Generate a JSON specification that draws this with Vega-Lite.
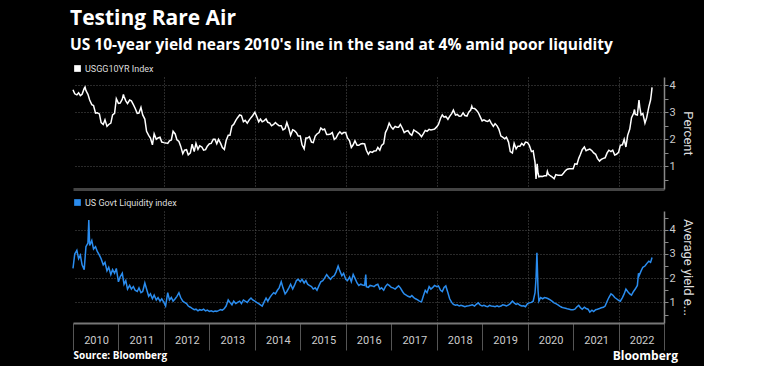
{
  "$schema": "https://vega.github.io/schema/vega-lite/v6.json",
  "background": "#000000",
  "padding": {"left": 70, "top": 7, "right": 10, "bottom": 4},
  "title": {
    "text": "Testing Rare Air",
    "subtitle": "US 10-year yield nears 2010's line in the sand at 4% amid poor liquidity",
    "anchor": "start",
    "font": "Open Sans",
    "fontSize": 21,
    "fontWeight": "bold",
    "color": "#ffffff",
    "subtitleFont": "Open Sans",
    "subtitleFontSize": 15.5,
    "subtitleFontWeight": "bold",
    "subtitleColor": "#ffffff",
    "subtitlePadding": 9,
    "offset": 11
  },
  "datasets": {
    "yield": [
      {"d":"2010-01-01","v":3.83},{"d":"2010-01-15","v":3.68},{"d":"2010-02-01","v":3.64},{"d":"2010-02-15","v":3.72},{"d":"2010-03-01","v":3.61},{"d":"2010-03-15","v":3.66},{"d":"2010-04-01","v":3.88},{"d":"2010-04-08","v":3.93},{"d":"2010-04-15","v":3.8},{"d":"2010-05-01","v":3.66},{"d":"2010-05-15","v":3.45},{"d":"2010-06-01","v":3.28},{"d":"2010-06-15","v":3.25},{"d":"2010-07-01","v":2.97},{"d":"2010-07-15","v":2.98},{"d":"2010-08-01","v":2.94},{"d":"2010-08-15","v":2.62},{"d":"2010-09-01","v":2.55},{"d":"2010-09-15","v":2.72},{"d":"2010-10-01","v":2.48},{"d":"2010-10-15","v":2.55},{"d":"2010-11-01","v":2.6},{"d":"2010-11-15","v":2.9},{"d":"2010-12-01","v":2.96},{"d":"2010-12-15","v":3.5},
      {"d":"2011-01-01","v":3.33},{"d":"2011-01-15","v":3.34},{"d":"2011-02-01","v":3.48},{"d":"2011-02-10","v":3.66},{"d":"2011-02-15","v":3.58},{"d":"2011-03-01","v":3.42},{"d":"2011-03-15","v":3.32},{"d":"2011-04-01","v":3.45},{"d":"2011-04-15","v":3.42},{"d":"2011-05-01","v":3.28},{"d":"2011-05-15","v":3.15},{"d":"2011-06-01","v":2.96},{"d":"2011-06-15","v":2.97},{"d":"2011-07-01","v":3.18},{"d":"2011-07-15","v":2.9},{"d":"2011-08-01","v":2.75},{"d":"2011-08-15","v":2.3},{"d":"2011-09-01","v":2.15},{"d":"2011-09-15","v":2.05},{"d":"2011-10-01","v":1.8},{"d":"2011-10-15","v":2.2},{"d":"2011-11-01","v":2.0},{"d":"2011-11-15","v":2.05},{"d":"2011-12-01","v":2.08},{"d":"2011-12-15","v":1.9},
      {"d":"2012-01-01","v":1.88},{"d":"2012-01-15","v":1.87},{"d":"2012-02-01","v":1.85},{"d":"2012-02-15","v":1.95},{"d":"2012-03-01","v":1.98},{"d":"2012-03-15","v":2.3},{"d":"2012-04-01","v":2.2},{"d":"2012-04-15","v":1.98},{"d":"2012-05-01","v":1.92},{"d":"2012-05-15","v":1.75},{"d":"2012-06-01","v":1.47},{"d":"2012-06-15","v":1.6},{"d":"2012-07-01","v":1.62},{"d":"2012-07-15","v":1.43},{"d":"2012-08-01","v":1.5},{"d":"2012-08-15","v":1.82},{"d":"2012-09-01","v":1.55},{"d":"2012-09-15","v":1.85},{"d":"2012-10-01","v":1.63},{"d":"2012-10-15","v":1.76},{"d":"2012-11-01","v":1.72},{"d":"2012-11-15","v":1.6},{"d":"2012-12-01","v":1.62},{"d":"2012-12-15","v":1.75},
      {"d":"2013-01-01","v":1.84},{"d":"2013-01-15","v":1.85},{"d":"2013-02-01","v":2.0},{"d":"2013-02-15","v":2.0},{"d":"2013-03-01","v":1.84},{"d":"2013-03-15","v":2.0},{"d":"2013-04-01","v":1.85},{"d":"2013-04-15","v":1.7},{"d":"2013-05-01","v":1.63},{"d":"2013-05-15","v":1.95},{"d":"2013-06-01","v":2.15},{"d":"2013-06-15","v":2.15},{"d":"2013-07-01","v":2.5},{"d":"2013-07-15","v":2.55},{"d":"2013-08-01","v":2.7},{"d":"2013-08-15","v":2.8},{"d":"2013-09-01","v":2.9},{"d":"2013-09-15","v":2.88},{"d":"2013-10-01","v":2.65},{"d":"2013-10-15","v":2.7},{"d":"2013-11-01","v":2.6},{"d":"2013-11-15","v":2.7},{"d":"2013-12-01","v":2.8},{"d":"2013-12-15","v":2.88},
      {"d":"2014-01-01","v":3.0},{"d":"2014-01-15","v":2.85},{"d":"2014-02-01","v":2.65},{"d":"2014-02-15","v":2.75},{"d":"2014-03-01","v":2.65},{"d":"2014-03-15","v":2.68},{"d":"2014-04-01","v":2.75},{"d":"2014-04-15","v":2.63},{"d":"2014-05-01","v":2.6},{"d":"2014-05-15","v":2.5},{"d":"2014-06-01","v":2.55},{"d":"2014-06-15","v":2.62},{"d":"2014-07-01","v":2.55},{"d":"2014-07-15","v":2.5},{"d":"2014-08-01","v":2.5},{"d":"2014-08-15","v":2.35},{"d":"2014-09-01","v":2.4},{"d":"2014-09-15","v":2.62},{"d":"2014-10-01","v":2.4},{"d":"2014-10-15","v":2.15},{"d":"2014-11-01","v":2.35},{"d":"2014-11-15","v":2.32},{"d":"2014-12-01","v":2.25},{"d":"2014-12-15","v":2.12},
      {"d":"2015-01-01","v":2.12},{"d":"2015-01-15","v":1.8},{"d":"2015-02-01","v":1.65},{"d":"2015-02-15","v":2.05},{"d":"2015-03-01","v":2.05},{"d":"2015-03-15","v":2.1},{"d":"2015-04-01","v":1.9},{"d":"2015-04-15","v":1.88},{"d":"2015-05-01","v":2.12},{"d":"2015-05-15","v":2.2},{"d":"2015-06-01","v":2.25},{"d":"2015-06-15","v":2.42},{"d":"2015-07-01","v":2.35},{"d":"2015-07-15","v":2.38},{"d":"2015-08-01","v":2.18},{"d":"2015-08-15","v":2.18},{"d":"2015-09-01","v":2.2},{"d":"2015-09-15","v":2.25},{"d":"2015-10-01","v":2.0},{"d":"2015-10-15","v":2.05},{"d":"2015-11-01","v":2.2},{"d":"2015-11-15","v":2.28},{"d":"2015-12-01","v":2.2},{"d":"2015-12-15","v":2.25},
      {"d":"2016-01-01","v":2.25},{"d":"2016-01-15","v":2.05},{"d":"2016-02-01","v":1.95},{"d":"2016-02-15","v":1.7},{"d":"2016-03-01","v":1.8},{"d":"2016-03-15","v":1.95},{"d":"2016-04-01","v":1.78},{"d":"2016-04-15","v":1.78},{"d":"2016-05-01","v":1.83},{"d":"2016-05-15","v":1.85},{"d":"2016-06-01","v":1.83},{"d":"2016-06-15","v":1.6},{"d":"2016-07-01","v":1.45},{"d":"2016-07-15","v":1.55},{"d":"2016-08-01","v":1.52},{"d":"2016-08-15","v":1.57},{"d":"2016-09-01","v":1.58},{"d":"2016-09-15","v":1.7},{"d":"2016-10-01","v":1.6},{"d":"2016-10-15","v":1.78},{"d":"2016-11-01","v":1.84},{"d":"2016-11-15","v":2.25},{"d":"2016-12-01","v":2.4},{"d":"2016-12-15","v":2.6},
      {"d":"2017-01-01","v":2.45},{"d":"2017-01-15","v":2.38},{"d":"2017-02-01","v":2.48},{"d":"2017-02-15","v":2.45},{"d":"2017-03-01","v":2.45},{"d":"2017-03-15","v":2.55},{"d":"2017-04-01","v":2.4},{"d":"2017-04-15","v":2.25},{"d":"2017-05-01","v":2.3},{"d":"2017-05-15","v":2.32},{"d":"2017-06-01","v":2.2},{"d":"2017-06-15","v":2.15},{"d":"2017-07-01","v":2.35},{"d":"2017-07-15","v":2.3},{"d":"2017-08-01","v":2.25},{"d":"2017-08-15","v":2.2},{"d":"2017-09-01","v":2.1},{"d":"2017-09-15","v":2.2},{"d":"2017-10-01","v":2.33},{"d":"2017-10-15","v":2.3},{"d":"2017-11-01","v":2.37},{"d":"2017-11-15","v":2.35},{"d":"2017-12-01","v":2.36},{"d":"2017-12-15","v":2.38},
      {"d":"2018-01-01","v":2.46},{"d":"2018-01-15","v":2.55},{"d":"2018-02-01","v":2.78},{"d":"2018-02-15","v":2.9},{"d":"2018-03-01","v":2.82},{"d":"2018-03-15","v":2.85},{"d":"2018-04-01","v":2.74},{"d":"2018-04-15","v":2.85},{"d":"2018-05-01","v":2.95},{"d":"2018-05-15","v":3.08},{"d":"2018-06-01","v":2.9},{"d":"2018-06-15","v":2.92},{"d":"2018-07-01","v":2.85},{"d":"2018-07-15","v":2.86},{"d":"2018-08-01","v":2.98},{"d":"2018-08-15","v":2.88},{"d":"2018-09-01","v":2.86},{"d":"2018-09-15","v":3.0},{"d":"2018-10-01","v":3.08},{"d":"2018-10-10","v":3.22},{"d":"2018-10-15","v":3.15},{"d":"2018-11-01","v":3.14},{"d":"2018-11-15","v":3.08},{"d":"2018-12-01","v":2.99},{"d":"2018-12-15","v":2.85},
      {"d":"2019-01-01","v":2.68},{"d":"2019-01-15","v":2.72},{"d":"2019-02-01","v":2.68},{"d":"2019-02-15","v":2.66},{"d":"2019-03-01","v":2.72},{"d":"2019-03-15","v":2.6},{"d":"2019-04-01","v":2.48},{"d":"2019-04-15","v":2.58},{"d":"2019-05-01","v":2.5},{"d":"2019-05-15","v":2.38},{"d":"2019-06-01","v":2.12},{"d":"2019-06-15","v":2.08},{"d":"2019-07-01","v":2.02},{"d":"2019-07-15","v":2.08},{"d":"2019-08-01","v":1.9},{"d":"2019-08-15","v":1.55},{"d":"2019-09-01","v":1.5},{"d":"2019-09-15","v":1.85},{"d":"2019-10-01","v":1.65},{"d":"2019-10-15","v":1.75},{"d":"2019-11-01","v":1.75},{"d":"2019-11-15","v":1.85},{"d":"2019-12-01","v":1.78},{"d":"2019-12-15","v":1.9},
      {"d":"2020-01-01","v":1.88},{"d":"2020-01-15","v":1.78},{"d":"2020-02-01","v":1.55},{"d":"2020-02-15","v":1.58},{"d":"2020-03-01","v":1.15},{"d":"2020-03-09","v":0.54},{"d":"2020-03-18","v":1.1},{"d":"2020-03-25","v":0.75},{"d":"2020-04-01","v":0.62},{"d":"2020-04-15","v":0.64},{"d":"2020-05-01","v":0.63},{"d":"2020-05-15","v":0.66},{"d":"2020-06-01","v":0.66},{"d":"2020-06-08","v":0.82},{"d":"2020-06-15","v":0.72},{"d":"2020-07-01","v":0.66},{"d":"2020-07-15","v":0.62},{"d":"2020-08-01","v":0.55},{"d":"2020-08-15","v":0.7},{"d":"2020-09-01","v":0.68},{"d":"2020-09-15","v":0.68},{"d":"2020-10-01","v":0.68},{"d":"2020-10-15","v":0.75},{"d":"2020-11-01","v":0.85},{"d":"2020-11-15","v":0.9},{"d":"2020-12-01","v":0.92},{"d":"2020-12-15","v":0.92},
      {"d":"2021-01-01","v":0.92},{"d":"2021-01-15","v":1.1},{"d":"2021-02-01","v":1.08},{"d":"2021-02-15","v":1.3},{"d":"2021-03-01","v":1.45},{"d":"2021-03-15","v":1.62},{"d":"2021-04-01","v":1.72},{"d":"2021-04-15","v":1.58},{"d":"2021-05-01","v":1.62},{"d":"2021-05-15","v":1.64},{"d":"2021-06-01","v":1.58},{"d":"2021-06-15","v":1.5},{"d":"2021-07-01","v":1.45},{"d":"2021-07-15","v":1.3},{"d":"2021-08-01","v":1.2},{"d":"2021-08-15","v":1.26},{"d":"2021-09-01","v":1.3},{"d":"2021-09-15","v":1.32},{"d":"2021-10-01","v":1.5},{"d":"2021-10-15","v":1.6},{"d":"2021-11-01","v":1.55},{"d":"2021-11-15","v":1.6},{"d":"2021-12-01","v":1.42},{"d":"2021-12-15","v":1.45},
      {"d":"2022-01-01","v":1.52},{"d":"2022-01-15","v":1.78},{"d":"2022-02-01","v":1.8},{"d":"2022-02-15","v":2.0},{"d":"2022-03-01","v":1.72},{"d":"2022-03-15","v":2.15},{"d":"2022-04-01","v":2.38},{"d":"2022-04-15","v":2.8},{"d":"2022-05-01","v":2.95},{"d":"2022-05-09","v":3.1},{"d":"2022-05-15","v":2.92},{"d":"2022-06-01","v":2.9},{"d":"2022-06-14","v":3.45},{"d":"2022-06-20","v":3.2},{"d":"2022-07-01","v":2.9},{"d":"2022-07-15","v":2.95},{"d":"2022-08-01","v":2.6},{"d":"2022-08-15","v":2.8},{"d":"2022-09-01","v":3.2},{"d":"2022-09-15","v":3.45},{"d":"2022-09-22","v":3.7},{"d":"2022-09-27","v":3.92}
    ],
    "liq": [
      {"d":"2010-01-01","v":2.4},{"d":"2010-01-15","v":3.0},{"d":"2010-02-01","v":3.15},{"d":"2010-02-15","v":2.8},{"d":"2010-03-01","v":2.95},{"d":"2010-03-15","v":2.55},{"d":"2010-04-01","v":2.35},{"d":"2010-04-15","v":3.3},{"d":"2010-05-01","v":3.45},{"d":"2010-05-08","v":4.4},{"d":"2010-05-15","v":3.35},{"d":"2010-06-01","v":3.55},{"d":"2010-06-15","v":3.2},{"d":"2010-07-01","v":3.3},{"d":"2010-07-15","v":3.1},{"d":"2010-08-01","v":2.95},{"d":"2010-08-15","v":2.8},{"d":"2010-09-01","v":2.55},{"d":"2010-09-15","v":2.65},{"d":"2010-10-01","v":2.3},{"d":"2010-10-15","v":2.45},{"d":"2010-11-01","v":2.15},{"d":"2010-11-15","v":2.35},{"d":"2010-12-01","v":2.2},{"d":"2010-12-15","v":2.4},
      {"d":"2011-01-01","v":1.85},{"d":"2011-01-15","v":2.05},{"d":"2011-02-01","v":2.2},{"d":"2011-02-15","v":1.75},{"d":"2011-03-01","v":1.9},{"d":"2011-03-15","v":1.55},{"d":"2011-04-01","v":1.7},{"d":"2011-04-15","v":1.55},{"d":"2011-05-01","v":1.65},{"d":"2011-05-15","v":1.5},{"d":"2011-06-01","v":1.45},{"d":"2011-06-15","v":1.6},{"d":"2011-07-01","v":1.4},{"d":"2011-07-15","v":1.45},{"d":"2011-08-01","v":1.8},{"d":"2011-08-15","v":1.55},{"d":"2011-09-01","v":1.25},{"d":"2011-09-15","v":1.35},{"d":"2011-10-01","v":1.15},{"d":"2011-10-15","v":1.3},{"d":"2011-11-01","v":1.1},{"d":"2011-11-15","v":1.2},{"d":"2011-12-01","v":1.05},{"d":"2011-12-15","v":1.15},
      {"d":"2012-01-01","v":1.0},{"d":"2012-01-15","v":0.85},{"d":"2012-02-01","v":1.4},{"d":"2012-02-15","v":1.1},{"d":"2012-03-01","v":1.2},{"d":"2012-03-15","v":1.05},{"d":"2012-04-01","v":1.15},{"d":"2012-04-15","v":1.25},{"d":"2012-05-01","v":1.4},{"d":"2012-05-15","v":1.2},{"d":"2012-06-01","v":1.05},{"d":"2012-06-15","v":1.0},{"d":"2012-07-01","v":0.95},{"d":"2012-07-15","v":0.85},{"d":"2012-08-01","v":0.8},{"d":"2012-08-15","v":0.75},{"d":"2012-09-01","v":0.7},{"d":"2012-09-15","v":0.72},{"d":"2012-10-01","v":0.65},{"d":"2012-10-15","v":0.7},{"d":"2012-11-01","v":0.68},{"d":"2012-11-15","v":0.72},{"d":"2012-12-01","v":0.65},{"d":"2012-12-15","v":0.68},
      {"d":"2013-01-01","v":0.63},{"d":"2013-01-15","v":0.65},{"d":"2013-02-01","v":0.62},{"d":"2013-02-15","v":0.64},{"d":"2013-03-01","v":0.63},{"d":"2013-03-15","v":0.66},{"d":"2013-04-01","v":0.7},{"d":"2013-04-15","v":0.68},{"d":"2013-05-01","v":0.75},{"d":"2013-05-15","v":0.85},{"d":"2013-06-01","v":1.1},{"d":"2013-06-15","v":1.0},{"d":"2013-07-01","v":0.9},{"d":"2013-07-15","v":1.05},{"d":"2013-08-01","v":0.95},{"d":"2013-08-15","v":1.0},{"d":"2013-09-01","v":1.05},{"d":"2013-09-15","v":0.95},{"d":"2013-10-01","v":1.1},{"d":"2013-10-15","v":1.05},{"d":"2013-11-01","v":1.0},{"d":"2013-11-15","v":1.1},{"d":"2013-12-01","v":1.18},{"d":"2013-12-15","v":1.1},
      {"d":"2014-01-01","v":1.05},{"d":"2014-01-15","v":1.0},{"d":"2014-02-01","v":0.95},{"d":"2014-02-15","v":0.9},{"d":"2014-03-01","v":0.85},{"d":"2014-03-15","v":1.0},{"d":"2014-04-01","v":1.18},{"d":"2014-04-15","v":1.05},{"d":"2014-05-01","v":1.2},{"d":"2014-05-15","v":1.3},{"d":"2014-06-01","v":1.4},{"d":"2014-06-15","v":1.35},{"d":"2014-07-01","v":1.5},{"d":"2014-07-15","v":1.6},{"d":"2014-08-01","v":1.85},{"d":"2014-08-15","v":1.6},{"d":"2014-09-01","v":1.35},{"d":"2014-09-15","v":1.45},{"d":"2014-10-01","v":1.6},{"d":"2014-10-15","v":1.75},{"d":"2014-11-01","v":1.55},{"d":"2014-11-15","v":1.7},{"d":"2014-12-01","v":1.9},{"d":"2014-12-15","v":1.95},
      {"d":"2015-01-01","v":1.85},{"d":"2015-01-15","v":1.95},{"d":"2015-02-01","v":1.8},{"d":"2015-02-15","v":1.9},{"d":"2015-03-01","v":1.75},{"d":"2015-03-15","v":1.7},{"d":"2015-04-01","v":1.65},{"d":"2015-04-15","v":1.55},{"d":"2015-05-01","v":1.6},{"d":"2015-05-15","v":1.5},{"d":"2015-06-01","v":1.7},{"d":"2015-06-15","v":1.85},{"d":"2015-07-01","v":1.9},{"d":"2015-07-15","v":2.0},{"d":"2015-08-01","v":2.15},{"d":"2015-08-15","v":2.05},{"d":"2015-09-01","v":1.95},{"d":"2015-09-15","v":2.05},{"d":"2015-10-01","v":2.1},{"d":"2015-10-15","v":2.25},{"d":"2015-11-01","v":2.5},{"d":"2015-11-15","v":2.3},{"d":"2015-12-01","v":2.1},{"d":"2015-12-15","v":2.2},
      {"d":"2016-01-01","v":1.95},{"d":"2016-01-15","v":1.9},{"d":"2016-02-01","v":2.05},{"d":"2016-02-15","v":1.85},{"d":"2016-03-01","v":2.15},{"d":"2016-03-15","v":2.0},{"d":"2016-04-01","v":1.8},{"d":"2016-04-15","v":1.7},{"d":"2016-05-01","v":1.75},{"d":"2016-05-15","v":1.72},{"d":"2016-06-01","v":1.7},{"d":"2016-06-10","v":2.15},{"d":"2016-06-15","v":1.65},{"d":"2016-07-01","v":1.62},{"d":"2016-07-15","v":1.7},{"d":"2016-08-01","v":1.68},{"d":"2016-08-15","v":1.65},{"d":"2016-09-01","v":1.72},{"d":"2016-09-15","v":1.75},{"d":"2016-10-01","v":1.55},{"d":"2016-10-15","v":1.6},{"d":"2016-11-01","v":1.5},{"d":"2016-11-15","v":1.65},{"d":"2016-12-01","v":1.75},{"d":"2016-12-15","v":1.7},
      {"d":"2017-01-01","v":1.62},{"d":"2017-01-15","v":1.6},{"d":"2017-02-01","v":1.55},{"d":"2017-02-15","v":1.62},{"d":"2017-03-01","v":1.68},{"d":"2017-03-15","v":1.6},{"d":"2017-04-01","v":1.45},{"d":"2017-04-15","v":1.35},{"d":"2017-05-01","v":1.3},{"d":"2017-05-15","v":1.25},{"d":"2017-06-01","v":1.22},{"d":"2017-06-15","v":1.28},{"d":"2017-07-01","v":1.2},{"d":"2017-07-15","v":1.15},{"d":"2017-08-01","v":1.1},{"d":"2017-08-15","v":1.05},{"d":"2017-09-01","v":1.02},{"d":"2017-09-15","v":1.25},{"d":"2017-10-01","v":1.5},{"d":"2017-10-15","v":1.4},{"d":"2017-11-01","v":1.65},{"d":"2017-11-15","v":1.55},{"d":"2017-12-01","v":1.62},{"d":"2017-12-15","v":1.7},
      {"d":"2018-01-01","v":1.65},{"d":"2018-01-15","v":1.68},{"d":"2018-02-01","v":1.5},{"d":"2018-02-15","v":1.45},{"d":"2018-03-01","v":1.62},{"d":"2018-03-15","v":1.68},{"d":"2018-04-01","v":1.4},{"d":"2018-04-15","v":1.15},{"d":"2018-05-01","v":1.0},{"d":"2018-05-15","v":0.92},{"d":"2018-06-01","v":0.88},{"d":"2018-06-15","v":0.9},{"d":"2018-07-01","v":0.85},{"d":"2018-07-15","v":0.88},{"d":"2018-08-01","v":0.85},{"d":"2018-08-15","v":0.82},{"d":"2018-09-01","v":0.85},{"d":"2018-09-15","v":0.86},{"d":"2018-10-01","v":0.88},{"d":"2018-10-15","v":0.9},{"d":"2018-11-01","v":0.85},{"d":"2018-11-15","v":0.92},{"d":"2018-12-01","v":0.98},{"d":"2018-12-15","v":0.9},
      {"d":"2019-01-01","v":0.85},{"d":"2019-01-15","v":0.88},{"d":"2019-02-01","v":0.84},{"d":"2019-02-15","v":0.82},{"d":"2019-03-01","v":0.88},{"d":"2019-03-15","v":0.85},{"d":"2019-04-01","v":0.84},{"d":"2019-04-15","v":0.82},{"d":"2019-05-01","v":0.86},{"d":"2019-05-15","v":0.82},{"d":"2019-06-01","v":0.85},{"d":"2019-06-15","v":0.9},{"d":"2019-07-01","v":0.88},{"d":"2019-07-15","v":0.85},{"d":"2019-08-01","v":0.9},{"d":"2019-08-15","v":0.95},{"d":"2019-09-01","v":1.05},{"d":"2019-09-15","v":0.98},{"d":"2019-10-01","v":0.92},{"d":"2019-10-15","v":0.95},{"d":"2019-11-01","v":0.88},{"d":"2019-11-15","v":0.85},{"d":"2019-12-01","v":0.86},{"d":"2019-12-15","v":0.82},
      {"d":"2020-01-01","v":0.95},{"d":"2020-01-15","v":0.98},{"d":"2020-02-01","v":1.0},{"d":"2020-02-15","v":1.05},{"d":"2020-03-01","v":1.4},{"d":"2020-03-09","v":2.0},{"d":"2020-03-16","v":3.05},{"d":"2020-03-20","v":2.4},{"d":"2020-03-25","v":1.5},{"d":"2020-04-01","v":1.05},{"d":"2020-04-15","v":1.2},{"d":"2020-05-01","v":1.15},{"d":"2020-05-15","v":1.2},{"d":"2020-06-01","v":1.18},{"d":"2020-06-15","v":1.15},{"d":"2020-07-01","v":1.1},{"d":"2020-07-15","v":1.05},{"d":"2020-08-01","v":0.98},{"d":"2020-08-15","v":0.95},{"d":"2020-09-01","v":0.9},{"d":"2020-09-15","v":0.85},{"d":"2020-10-01","v":0.8},{"d":"2020-10-15","v":0.78},{"d":"2020-11-01","v":0.76},{"d":"2020-11-15","v":0.74},{"d":"2020-12-01","v":0.72},{"d":"2020-12-15","v":0.7},
      {"d":"2021-01-01","v":0.7},{"d":"2021-01-15","v":0.72},{"d":"2021-02-01","v":0.82},{"d":"2021-02-15","v":0.88},{"d":"2021-03-01","v":0.78},{"d":"2021-03-15","v":0.72},{"d":"2021-04-01","v":0.8},{"d":"2021-04-15","v":0.75},{"d":"2021-05-01","v":0.72},{"d":"2021-05-15","v":0.6},{"d":"2021-06-01","v":0.68},{"d":"2021-06-15","v":0.62},{"d":"2021-07-01","v":0.7},{"d":"2021-07-15","v":0.72},{"d":"2021-08-01","v":0.75},{"d":"2021-08-15","v":0.78},{"d":"2021-09-01","v":0.8},{"d":"2021-09-15","v":0.85},{"d":"2021-10-01","v":1.05},{"d":"2021-10-15","v":1.2},{"d":"2021-11-01","v":1.35},{"d":"2021-11-15","v":1.3},{"d":"2021-12-01","v":1.2},{"d":"2021-12-15","v":1.15},
      {"d":"2022-01-01","v":1.08},{"d":"2022-01-15","v":1.05},{"d":"2022-02-01","v":1.2},{"d":"2022-02-15","v":1.35},{"d":"2022-03-01","v":1.55},{"d":"2022-03-15","v":1.45},{"d":"2022-04-01","v":1.35},{"d":"2022-04-15","v":1.3},{"d":"2022-05-01","v":1.45},{"d":"2022-05-15","v":1.55},{"d":"2022-06-01","v":1.7},{"d":"2022-06-10","v":2.2},{"d":"2022-06-15","v":2.1},{"d":"2022-07-01","v":2.3},{"d":"2022-07-15","v":2.45},{"d":"2022-08-01","v":2.5},{"d":"2022-08-15","v":2.6},{"d":"2022-09-01","v":2.7},{"d":"2022-09-15","v":2.65},{"d":"2022-09-27","v":2.85}
    ]
  },
  "spacing": 9,
  "resolve": {"scale": {"color": "independent"}, "legend": {"color": "independent"}},
  "vconcat": [
    {
      "width": 591,
      "height": 112,
      "data": {"name": "yield"},
      "mark": {"type": "line", "strokeWidth": 1.5},
      "encoding": {
        "x": {
          "field": "d", "type": "temporal",
          "scale": {"type": "utc", "domain": [{"year": 2010, "month": 1, "date": 1, "utc": true}, {"year": 2023, "month": 1, "date": 1, "utc": true}]},
          "axis": {
            "title": null, "labels": false, "ticks": false,
            "domainColor": "#444", "domainWidth": 3,
            "tickCount": {"interval": "year", "step": 1},
            "grid": true,
            "gridOpacity": {"condition": {"test": "utcyear(datum.value) % 2 === 1 || utcyear(datum.value) <= 2010", "value": 0}, "value": 1}
          }
        },
        "y": {
          "field": "v", "type": "quantitative",
          "scale": {"domain": [0.17, 4.3], "nice": false, "zero": false},
          "axis": {
            "orient": "right", "title": "Percent",
            "values": [0.5, 1, 1.5, 2, 2.5, 3, 3.5, 4],
            "labelOverlap": false,
            "labelExpr": "datum.value % 1 === 0 ? format(datum.value, 'd') : ''",
            "gridOpacity": {"condition": {"test": "datum.value % 1 !== 0", "value": 0}, "value": 1}
          }
        },
        "color": {
          "datum": "USGG10YR Index",
          "scale": {"range": ["#ffffff"]},
          "legend": {"symbolFillColor": "#ffffff", "symbolStrokeColor": "#ffffff"}
        }
      }
    },
    {
      "width": 591,
      "height": 112,
      "data": {"name": "liq"},
      "mark": {"type": "line", "strokeWidth": 1.5},
      "title": {"text": "Bloomberg", "orient": "bottom", "anchor": "end", "frame": "group", "font": "Open Sans", "fontSize": 12, "fontWeight": "bold", "color": "#ffffff", "dx": 14, "dy": -10, "offset": 0},
      "encoding": {
        "x": {
          "field": "d", "type": "temporal",
          "scale": {"type": "utc", "domain": [{"year": 2010, "month": 1, "date": 1, "utc": true}, {"year": 2023, "month": 1, "date": 1, "utc": true}]},
          "axis": {
            "title": "Source: Bloomberg", "titleAnchor": "start", "titleAlign": "left",
            "titleFont": "Open Sans", "titleFontWeight": "bold", "titleFontSize": 10, "titleColor": "#ffffff", "titlePadding": 0,
            "tickCount": {"interval": "year", "step": 1},
            "format": "%Y",
            "labelExpr": "utcyear(datum.value) >= 2023 ? '' : datum.label",
            "labelOffset": 23, "labelPadding": -16, "tickSize": 27,
            "labelFlush": false, "labelOverlap": false, "labelBound": false,
            "domainColor": "#777", "domainWidth": 2, "tickColor": "#555",
            "grid": true,
            "gridOpacity": {"condition": {"test": "utcyear(datum.value) % 2 === 1 || utcyear(datum.value) <= 2010", "value": 0}, "value": 1}
          }
        },
        "y": {
          "field": "v", "type": "quantitative",
          "scale": {"domain": [0.15, 4.77], "nice": false, "zero": false},
          "axis": {
            "orient": "right", "title": "Average yield e...",
            "values": [0.5, 1, 1.5, 2, 2.5, 3, 3.5, 4, 4.5],
            "labelOverlap": false,
            "labelExpr": "datum.value % 1 === 0 ? format(datum.value, 'd') : ''",
            "gridOpacity": {"condition": {"test": "datum.value % 1 !== 0", "value": 0}, "value": 1}
          }
        },
        "color": {
          "datum": "US Govt Liquidity index",
          "scale": {"range": ["#2a8cee"]},
          "legend": {"symbolFillColor": "#2a8cee", "symbolStrokeColor": "#2a8cee"}
        }
      }
    }
  ],
  "config": {
    "view": {"stroke": null},
    "font": "Roboto",
    "axis": {
      "labelFont": "Roboto",
      "labelFontSize": 11,
      "labelColor": "#cccccc",
      "titleFont": "Roboto",
      "titleFontSize": 13,
      "titleFontWeight": "normal",
      "titleColor": "#dddddd",
      "domainColor": "#888888",
      "tickColor": "#888888",
      "gridColor": "#555555",
      "gridDash": [1, 2]
    },
    "axisRight": {"tickSize": 4, "labelPadding": 1, "titlePadding": 5, "domainWidth": 1.5},
    "legend": {
      "orient": "top",
      "direction": "horizontal",
      "title": null,
      "symbolType": "square",
      "symbolSize": 45,
      "symbolStrokeWidth": 0,
      "labelFont": "Roboto",
      "labelFontSize": 9,
      "labelColor": "#dddddd",
      "offset": 3,
      "padding": 0,
      "labelOffset": 3
    }
  }
}
